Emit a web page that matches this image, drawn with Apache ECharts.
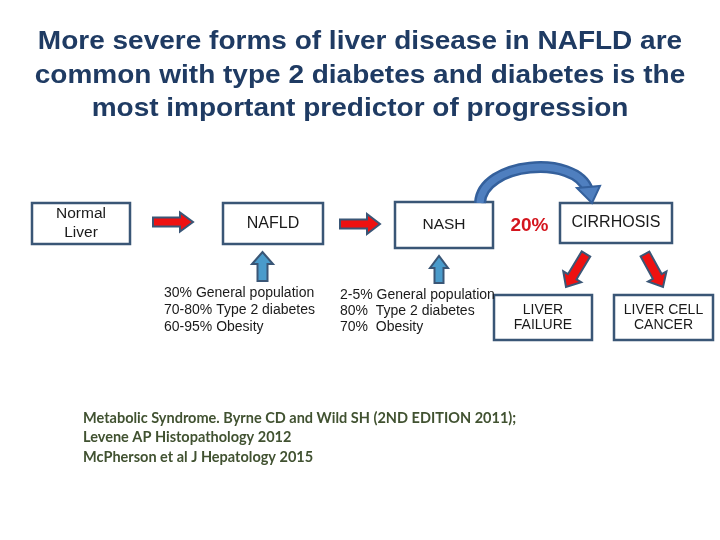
<!DOCTYPE html>
<html><head><meta charset="utf-8">
<script src="https://cdn.jsdelivr.net/npm/echarts@6/dist/echarts.min.js"></script>
<style>html,body{margin:0;padding:0;background:#fff}#c{width:720px;height:540px}</style>
</head><body><div id="c"></div>
<script>
// ---- content ----
const titleLines = [
  'More severe forms of liver disease in NAFLD are',
  'common with type 2 diabetes and diabetes is the',
  'most important predictor of progression'
];
const stageLabels = [['Normal', 'Liver'], ['NAFLD'], ['NASH'], ['CIRRHOSIS'], ['LIVER', 'FAILURE'], ['LIVER CELL', 'CANCER']];
const progressionRate = '20%';
const naflPrevalence = ['30% General population', '70-80% Type 2 diabetes', '60-95% Obesity'];
const nashPrevalence = ['2-5% General population', '80%  Type 2 diabetes', '70%  Obesity'];
const references = [
  'Metabolic Syndrome. Byrne CD and Wild SH (2ND EDITION 2011);',
  'Levene AP Histopathology 2012',
  'McPherson et al J Hepatology 2015'
];

// ---- layout ----
const boxLayout = [
  {x: 32, y: 203, w: 98, h: 41, lh: 19, fs: 15.5},
  {x: 223, y: 203, w: 100, h: 41, lh: 17, fs: 16},
  {x: 395, y: 202, w: 98, h: 46, lh: 17, fs: 15.5},
  {x: 560, y: 203, w: 112, h: 40, lh: 17, fs: 16},
  {x: 494, y: 295, w: 98, h: 45, lh: 15, fs: 14},
  {x: 614, y: 295, w: 99, h: 45, lh: 15, fs: 14}
];
const redArrows = [
  {from: [153, 222], to: [193, 222], shaft: 9, head: 19, headLen: 13},
  {from: [340, 224], to: [380, 224], shaft: 9, head: 20, headLen: 13},
  {from: [586, 254], to: [566, 287], shaft: 10, head: 21, headLen: 12},
  {from: [645, 254], to: [663, 287], shaft: 10, head: 21, headLen: 12}
];
const blueArrows = [
  {from: [262.5, 281], to: [262.5, 252], shaft: 10, head: 21, headLen: 12},
  {from: [439, 283], to: [439, 256], shaft: 9, head: 18, headLen: 12}
];

const BORDER = '#3A5676';
const TEXT = '#1a1a1a';
const SANS = '"Liberation Sans", Arial, sans-serif';

function arrowPoints(a) {
  const [x1, y1] = a.from, [x2, y2] = a.to;
  const dx = x2 - x1, dy = y2 - y1, L = Math.hypot(dx, dy);
  const ux = dx / L, uy = dy / L, px = -uy, py = ux;
  const s = a.shaft / 2, h = a.head / 2, bl = L - a.headLen;
  const P = (along, side) => [x1 + ux * along + px * side, y1 + uy * along + py * side];
  return [P(0, -s), P(bl, -s), P(bl, -h), P(L, 0), P(bl, h), P(bl, s), P(0, s)];
}

const g = [];
titleLines.forEach((t, i) => g.push({
  type: 'text', x: 360, y: 42 + i * 33.5, scaleX: 1.077,
  style: {text: t, fill: '#1F3B63', font: 'bold 26px ' + SANS,
    textAlign: 'center', textVerticalAlign: 'middle'}
}));
stageLabels.forEach((lines, i) => {
  const b = boxLayout[i];
  g.push({type: 'rect', shape: {x: b.x, y: b.y, width: b.w, height: b.h},
    style: {fill: '#fff', stroke: BORDER, lineWidth: 2.5}});
  const cy = b.y + b.h / 2 - (lines.length - 1) * b.lh / 2;
  lines.forEach((ln, j) => g.push({type: 'text', x: b.x + b.w / 2, y: cy + j * b.lh,
    style: {text: ln, fill: TEXT, font: b.fs + 'px ' + SANS,
      textAlign: 'center', textVerticalAlign: 'middle'}}));
});
redArrows.forEach(a => g.push({type: 'polygon', shape: {points: arrowPoints(a)},
  style: {fill: '#EE1111', stroke: BORDER, lineWidth: 2, lineJoin: 'miter'}}));
blueArrows.forEach(a => g.push({type: 'polygon', shape: {points: arrowPoints(a)},
  style: {fill: '#4A9BCB', stroke: BORDER, lineWidth: 2, lineJoin: 'miter'}}));

// curved arrow NASH -> CIRRHOSIS
const curve = {x1: 480, y1: 203, cpx1: 482, cpy1: 162, cpx2: 575, cpy2: 154, x2: 588, y2: 190};
g.push({type: 'bezierCurve', shape: curve, style: {stroke: '#34609C', lineWidth: 12, fill: null}});
g.push({type: 'bezierCurve', shape: curve, style: {stroke: '#4F7FBF', lineWidth: 7, fill: null}});
g.push({type: 'polygon', shape: {points: [[577, 188], [600, 186], [592, 203]]},
  style: {fill: '#4F7FBF', stroke: '#34609C', lineWidth: 2, lineJoin: 'miter'}});

g.push({type: 'text', x: 529.5, y: 226,
  style: {text: progressionRate, fill: '#D4161E', font: 'bold 19px ' + SANS,
    textAlign: 'center', textVerticalAlign: 'middle'}});

naflPrevalence.forEach((t, i) => g.push({type: 'text', x: 164, y: 293 + i * 17,
  style: {text: t, fill: TEXT, font: '14px ' + SANS, textAlign: 'left', textVerticalAlign: 'middle'}}));
nashPrevalence.forEach((t, i) => g.push({type: 'text', x: 340, y: 295 + i * 16,
  style: {text: t, fill: TEXT, font: '14px ' + SANS, textAlign: 'left', textVerticalAlign: 'middle'}}));

references.forEach((t, i) => g.push({type: 'text', x: 83, y: 418 + i * 19.5,
  style: {text: t, fill: '#415231', font: 'bold 14.5px Lato, "Open Sans", sans-serif',
    textAlign: 'left', textVerticalAlign: 'middle'}}));

const chart = echarts.init(document.getElementById('c'));
chart.setOption({backgroundColor: '#fff', animation: false, graphic: {elements: g}});
</script></body></html>
